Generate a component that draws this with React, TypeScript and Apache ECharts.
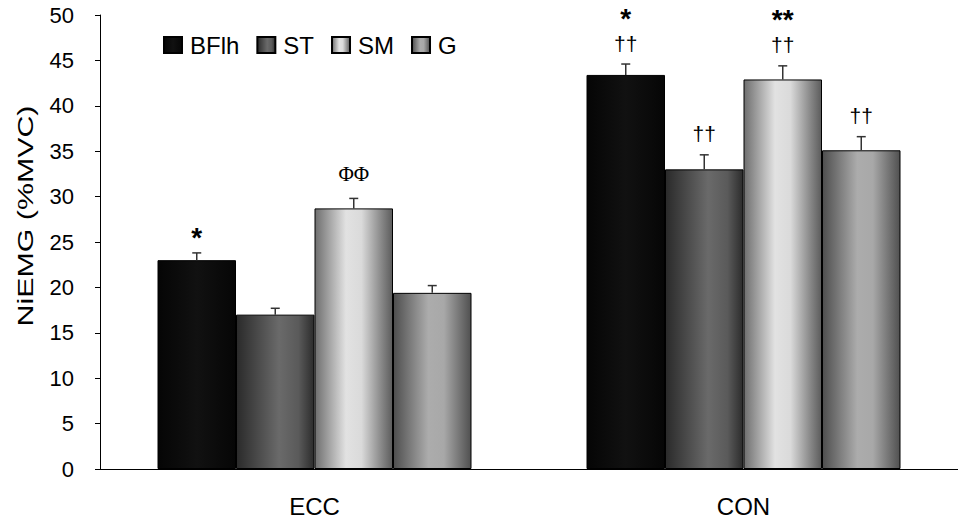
import React, { useEffect, useRef } from "react";
import * as echarts from "echarts";

const categories = ["ECC", "CON"];
const seriesNames = ["BFlh", "ST", "SM", "G"];
const bflh = [23.0, 43.4];
const st = [17.0, 33.0];
const sm = [28.7, 42.9];
const g = [19.4, 35.1];
const bflhErr = [0.8, 1.2];
const stErr = [0.7, 1.6];
const smErr = [1.1, 1.5];
const gErr = [0.8, 1.5];
// significance marks, listed from the bar upward
const bflhMarks = [["*"], ["††", "*"]];
const stMarks = [[], ["††"]];
const smMarks = [["ΦΦ"], ["††", "**"]];
const gMarks = [[], ["††"]];
const yTicks = [0, 5, 10, 15, 20, 25, 30, 35, 40, 45, 50];
const yName = "NiEMG (%MVC)";

const FONT = "Liberation Sans, Arial, sans-serif";
const SERIF = "Liberation Serif, Times New Roman, serif";
const BAR_W = 78.5;

const grad = (stops: [number, string][]) =>
  new echarts.graphic.LinearGradient(
    0, 0, 1, 0,
    stops.map(([offset, color]) => ({ offset, color }))
  );

const colors = [
  grad([[0, "#050505"], [0.5, "#111111"], [1, "#060606"]]),
  grad([[0, "#2a2a2a"], [0.55, "#6a6a6a"], [0.8, "#5a5a5a"], [1, "#2c2c2c"]]),
  grad([[0, "#6e6e6e"], [0.4, "#e2e2e2"], [0.6, "#dadada"], [0.85, "#8a8a8a"], [1, "#5c5c5c"]]),
  grad([[0, "#4e4e4e"], [0.45, "#acacac"], [0.65, "#a8a8a8"], [1, "#505050"]]),
];

const rich = {
  s: { fontSize: 28, fontWeight: "bold", fontFamily: FONT, lineHeight: 28, color: "#000" },
  d: { fontSize: 21, fontFamily: FONT, lineHeight: 22, color: "#000" },
  p: { fontSize: 21, fontFamily: SERIF, lineHeight: 22, color: "#000" },
};

const markKey = (t: string) => (t.includes("*") ? "s" : t.includes("Φ") ? "p" : "d");
const bottomGap: Record<string, number> = { s: 1, d: 10, p: 13 };

export default function App() {
  const ref = useRef<HTMLDivElement>(null);
  useEffect(() => {
    if (!ref.current) return;
    const chart = echarts.init(ref.current, null, { renderer: "svg" });
    const means = [bflh, st, sm, g];
    const errs = [bflhErr, stErr, smErr, gErr];
    const marks = [bflhMarks, stMarks, smMarks, gMarks];
    const errData: any[] = [];
    means.forEach((arr, s) => {
      arr.forEach((v, c) => {
        errData.push([c, s, v, v + errs[s][c]]);
      });
    });

    const option: any = {
      animation: false,
      grid: { left: 100, top: 15, width: 862, height: 454 },
      graphic: [
        {
          type: "text",
          x: 26,
          y: 216,
          rotation: Math.PI / 2,
          scaleX: 1.38,
          style: {
            text: yName,
            fontSize: 22,
            fontFamily: FONT,
            fill: "#000",
            align: "center",
            verticalAlign: "middle",
          },
        },
      ],
      legend: {
        data: seriesNames,
        left: 163,
        top: 33,
        icon: "rect",
        itemWidth: 18,
        itemHeight: 16,
        itemGap: 17,
        padding: 0,
        textStyle: { fontSize: 24, color: "#000", fontFamily: FONT, padding: [0, 0, 0, 3] },
      },
      xAxis: {
        type: "category",
        data: categories,
        axisLine: { lineStyle: { color: "#000", width: 1 } },
        axisTick: { inside: true, length: 8, lineStyle: { color: "#555" } },
        axisLabel: { fontSize: 24, color: "#000", fontFamily: FONT, margin: 25 },
      },
      yAxis: {
        type: "value",
        min: 0,
        max: 50,
        interval: 5,
        axisLine: { show: true, lineStyle: { color: "#000", width: 1 } },
        axisTick: { show: true, length: 5, lineStyle: { color: "#000" } },
        axisLabel: {
          fontSize: 22,
          color: "#000",
          fontFamily: FONT,
          margin: 26,
          formatter: (v: number) => (yTicks.includes(v) ? String(v) : ""),
        },
        splitLine: { show: false },
      },
      series: [
        ...seriesNames.map((name, i) => ({
          name,
          type: "bar",
          data: means[i],
          barWidth: BAR_W,
          barGap: "0%",
          itemStyle: { color: colors[i], borderColor: "#000", borderWidth: 1 },
        })),
        {
          type: "custom",
          data: errData,
          encode: { x: 0, y: 3 },
          z: 10,
          renderItem: (params: any, api: any) => {
            const c = api.value(0);
            const s = api.value(1);
            const mean = api.value(2);
            const top = api.value(3);
            const p0 = api.coord([c, mean]);
            const p1 = api.coord([c, top]);
            const x = p0[0] + (s - 1.5) * BAR_W;
            const children: any[] = [
              {
                type: "line",
                shape: { x1: x, y1: p0[1], x2: x, y2: p1[1] },
                style: { stroke: "#333", lineWidth: 1.5 },
              },
              {
                type: "line",
                shape: { x1: x - 4.5, y1: p1[1], x2: x + 4.5, y2: p1[1] },
                style: { stroke: "#333", lineWidth: 1.5 },
              },
            ];
            const list: string[] = marks[s][c];
            if (list.length) {
              const text = list
                .slice()
                .reverse()
                .map((t) => `{${markKey(t)}|${t}}`)
                .join("\n");
              children.push({
                type: "text",
                x,
                y: p1[1] - bottomGap[markKey(list[0])],
                style: {
                  text,
                  rich,
                  fill: "#000",
                  align: "center",
                  verticalAlign: "bottom",
                },
              });
            }
            return { type: "group", children };
          },
        },
      ],
    };
    chart.setOption(option);
    return () => chart.dispose();
  }, []);
  return (
    <div
      ref={ref}
      style={{ position: "fixed", left: 0, top: 0, width: 958, height: 521, background: "#fff" }}
    />
  );
}
